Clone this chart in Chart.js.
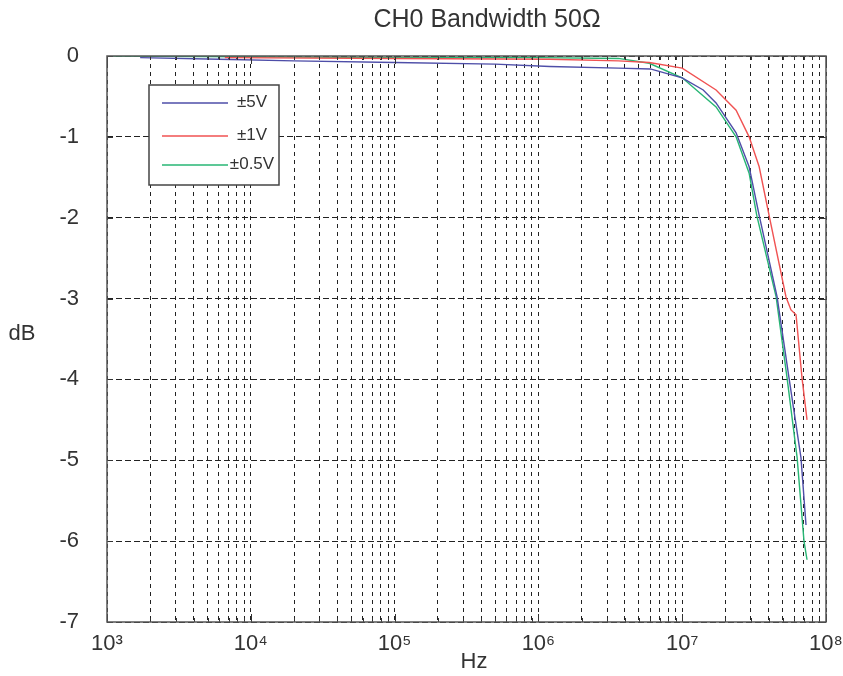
<!DOCTYPE html>
<html>
<head>
<meta charset="utf-8">
<script src="https://cdn.jsdelivr.net/npm/chart.js@4/dist/chart.umd.min.js"></script>
<style>
  html, body { margin: 0; padding: 0; background: #fff; }
  #wrap { width: 843px; height: 676px; }
</style>
</head>
<body>
<div id="wrap"><canvas id="bandaChart" width="843" height="676"></canvas></div>
<script>
const seriesNames = ["±5V", "±1V", "±0.5V"];
const seriesColors = ["#4e4ea8", "#f05252", "#27b674"];

const freq5V = [1.7e3, 6e3, 2e4, 1e5, 5e5, 1.2e6, 3.6e6, 6e6, 1e7, 1.4e7, 1.72e7, 2.37e7, 2.92e7, 3.43e7, 4.57e7, 5.53e7, 6.7e7, 7.26e7];
const db5V = [-0.02, -0.04, -0.06, -0.08, -0.1, -0.13, -0.15, -0.16, -0.27, -0.42, -0.58, -0.95, -1.37, -1.97, -2.98, -3.98, -4.97, -5.8];

const freq1V = [6.6e3, 1e5, 1.2e6, 3.6e6, 5.9e6, 1e7, 1.72e7, 2.37e7, 2.92e7, 3.43e7, 4.02e7, 5.27e7, 5.71e7, 6.19e7, 6.81e7, 7.38e7];
const db1V = [-0.02, -0.03, -0.04, -0.06, -0.08, -0.15, -0.42, -0.67, -1.0, -1.37, -1.97, -2.98, -3.14, -3.2, -3.98, -4.5];

const freq05V = [1e3, 1e4, 1e5, 1e6, 3.6e6, 5.9e6, 1e7, 1.72e7, 2.37e7, 2.92e7, 3.3e7, 4.5e7, 5.36e7, 6.3e7, 7.03e7, 7.38e7];
const db05V = [0, -0.01, -0.02, -0.02, -0.03, -0.09, -0.27, -0.63, -1.0, -1.45, -1.97, -2.98, -3.98, -4.97, -6.0, -6.23];

const decadas = [3, 4, 5, 6, 7, 8];
const superindices = ["⁰", "¹", "²", "³", "⁴", "⁵", "⁶", "⁷", "⁸", "⁹"];
const fuente = "'Liberation Sans', Arial, sans-serif";

function puntos(fs, ds) {
    return fs.map((f, i) => ({ x: f, y: ds[i] }));
}

function esDecada(v) {
    const e = Math.round(Math.log10(v));
    return Math.abs(v - Math.pow(10, e)) < 1e-6 * v;
}

const textosExtra = {
    id: "textosExtra",
    afterDraw(chart) {
        const ctx = chart.ctx;
        const area = chart.chartArea;
        const sx = chart.scales.x, sy = chart.scales.y;
        ctx.save();
        // marcas solidas en los bordes
        ctx.strokeStyle = "#333";
        ctx.lineWidth = 1;
        ctx.beginPath();
        sy.ticks.forEach(t => {
            const py = Math.round(sy.getPixelForValue(t.value)) + 0.5;
            ctx.moveTo(area.left, py); ctx.lineTo(area.left + 6, py);
            ctx.moveTo(area.right, py); ctx.lineTo(area.right - 6, py);
        });
        sx.ticks.forEach(t => {
            const px = Math.round(sx.getPixelForValue(t.value)) + 0.5;
            const largo = esDecada(t.value) ? 8 : 4;
            ctx.moveTo(px, area.bottom); ctx.lineTo(px, area.bottom - largo);
            ctx.moveTo(px, area.top); ctx.lineTo(px, area.top + largo);
        });
        ctx.stroke();
        // marco
        ctx.strokeStyle = "#555";
        ctx.lineWidth = 1.5;
        ctx.strokeRect(area.left, area.top, area.right - area.left, area.bottom - area.top);
        // titulo y etiquetas de ejes
        ctx.fillStyle = "#333";
        ctx.textAlign = "center";
        ctx.textBaseline = "middle";
        ctx.font = "25px " + fuente;
        ctx.fillText("CH0 Bandwidth 50Ω", 487, 20);
        ctx.font = "22px " + fuente;
        ctx.fillText("dB", 22, 334);
        ctx.fillText("Hz", 474, 662);
        // leyenda
        ctx.fillStyle = "#fff";
        ctx.fillRect(149, 85, 130, 100);
        ctx.strokeStyle = "#444";
        ctx.lineWidth = 1.5;
        ctx.strokeRect(149, 85, 130, 100);
        const filas = [103, 136, 165];
        ctx.font = "17px " + fuente;
        for (let i = 0; i < seriesNames.length; i++) {
            ctx.strokeStyle = seriesColors[i];
            ctx.lineWidth = 1.4;
            ctx.beginPath();
            ctx.moveTo(162, filas[i]);
            ctx.lineTo(228, filas[i]);
            ctx.stroke();
            ctx.fillStyle = "#333";
            ctx.fillText(seriesNames[i], 252, filas[i] - 1);
        }
        ctx.restore();
    }
};

function dibujarGrafica() {
    let ctx = document.getElementById("bandaChart").getContext("2d");
    new Chart(ctx, {
        type: "scatter",
        data: {
            datasets: [
                { label: seriesNames[0], data: puntos(freq5V, db5V), borderColor: seriesColors[0] },
                { label: seriesNames[1], data: puntos(freq1V, db1V), borderColor: seriesColors[1] },
                { label: seriesNames[2], data: puntos(freq05V, db05V), borderColor: seriesColors[2] }
            ].map(d => Object.assign(d, { showLine: true, pointRadius: 0, borderWidth: 1.4, fill: false }))
        },
        options: {
            responsive: false,
            animation: false,
            layout: { padding: { top: 56, right: 17, left: 0, bottom: 0 } },
            plugins: {
                legend: { display: false },
                title: { display: false },
                tooltip: { enabled: false }
            },
            scales: {
                x: {
                    type: "logarithmic",
                    min: 1e3,
                    max: 1e8,
                    afterBuildTicks(scale) {
                        let ticks = [];
                        decadas.forEach(e => {
                            for (let d = 1; d <= 9; d++) {
                                if (e === 8 && d > 1) break;
                                ticks.push({ value: d * Math.pow(10, e) });
                            }
                        });
                        scale.ticks = ticks;
                    },
                    afterFit(scale) {
                        scale.height = 54;
                        scale.paddingLeft = 0;
                        scale.paddingRight = 0;
                    },
                    border: { display: false, dash: [4, 4] },
                    grid: { color: "#222", lineWidth: 1, drawTicks: false },
                    ticks: {
                        autoSkip: false,
                        maxRotation: 0,
                        padding: 9,
                        color: "#333",
                        font: { family: fuente, size: 22 },
                        callback(v) {
                            if (!esDecada(v)) return "";
                            const e = Math.round(Math.log10(v));
                            return "10" + String(e).split("").map(c => superindices[+c]).join("");
                        }
                    }
                },
                y: {
                    min: -7,
                    max: 0,
                    afterFit(scale) {
                        scale.width = 107;
                        scale.paddingTop = 0;
                        scale.paddingBottom = 0;
                    },
                    border: { display: false, dash: [6, 3] },
                    grid: { color: "#222", lineWidth: 1, drawTicks: false },
                    ticks: {
                        stepSize: 1,
                        padding: 28,
                        color: "#333",
                        font: { family: fuente, size: 22 },
                        callback(v) { return String(v); }
                    }
                }
            }
        },
        plugins: [textosExtra]
    });
}

addEventListener("load", dibujarGrafica, false);
</script>
</body>
</html>
